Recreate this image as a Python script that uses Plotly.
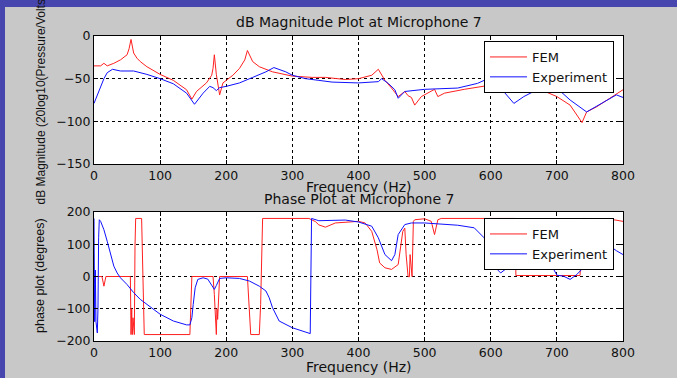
import plotly.graph_objects as go

# ---------------- data ----------------
fem_mag_pts = [(0,-35),(10,-35),(15,-32),(20,-35),(30,-32),(40,-28),(50,-22),(53,-15),(56,-4),(58,-12),
               (60,-20),(65,-26),(70,-30),(80,-36),(100,-45),(120,-52),(140,-63),(148,-74),(155,-65),
               (170,-55),(178,-46),(180,-38),(182,-22),(185,-45),(190,-69),(195,-55),(200,-52),(210,-46),
               (220,-38),(228,-28),(232,-17),(236,-24),(240,-30),(250,-36),(270,-42),(300,-47),(330,-48.5),
               (350,-48.5),(380,-51),(400,-50),(420,-46),(430,-39),(440,-52),(450,-61),(460,-71),(470,-65),
               (475,-70),(480,-72),(485,-81),(495,-71),(510,-65),(515,-62.5),(520,-71),(530,-67),
               (560,-62.5),(600,-57.5),(620,-50),(635,-40),(640,-36),(645,-42),(650,-55.5),(670,-61),
               (700,-71),(720,-81),(738,-101.5),(745,-89),(760,-83),(780,-73),(800,-63)]

exp_mag_pts = [(0,-79),(5,-69),(10,-61),(15,-50),(20,-43),(28,-39),(40,-41),(60,-41),(80,-45),(100,-50),
               (120,-56),(140,-67),(152,-80),(165,-67),(175,-59),(180,-60.5),(185,-64),(190,-60.5),
               (200,-59),(220,-55),(240,-48.5),(260,-42),(272,-37),(290,-42),(300,-46),(320,-50),
               (340,-52),(360,-54),(400,-55),(430,-53.5),(435,-50),(445,-55.5),(455,-63),(460,-73),
               (470,-65),(500,-62.5),(550,-61),(580,-55.5),(600,-48.5),(615,-61),(635,-79),(650,-71),
               (670,-63),(685,-55),(700,-61),(720,-75),(745,-89),(760,-82),(790,-69),(800,-72)]

fem_phase_pts = [(0,0),(1,-20),(2,0),(12,0),(15,-30),(18,0),(55,0),(56,-180),(57,-100),(58,-180),
                 (59,-128),(60,-180),(61,-180),(62,94),(63,180),(72,180),(73,94),(75,-81),(76,-180),
                 (145,-180),(146,-87),(148,0),(180,0),(182,-56),(185,-180),(186,-100),(187,-133),
                 (189,-25),(190,0),(232,0),(234,-87),(237,-180),(250,-180),(252,-87),(254,94),(255,180),
                 (325,180),(335,170),(340,160),(350,153),(365,166),(400,171),(410,166),(420,140),
                 (428,83),(432,42),(440,27),(450,22),(460,37),(463,89),(467,140),(470,150),(472,68),
                 (475,0),(477,-1),(478,68),(480,0),(481,0),(483,171),(485,176),(500,179),(510,171),
                 (515,130),(520,176),(525,180),(637,180),(638,3),(735,3),(740,180),(780,178),(800,171)]

exp_phase_pts = [(0,180),(1,-140),(2,20),(3,-140),(5,-175),(6,-100),(7,120),(8,176),(10,171),(15,145),
                 (20,109),(25,68),(30,32),(35,11),(40,-4),(50,-25),(60,-50),(70,-71),(80,-87),(100,-117),
                 (120,-138),(140,-150),(145,-150),(148,-128),(150,-87),(153,-35),(157,-9),(165,-4),
                 (172,-8),(178,-25),(182,-40),(185,-28),(190,-6),(200,-4),(220,-6),(235,-14),(250,-30),
                 (260,-45),(265,-66),(270,-97),(280,-138),(300,-159),(320,-171),(327,-177),(328,0),
                 (329,180),(340,173),(380,175),(400,169),(420,156),(430,120),(440,68),(450,49),(455,68),
                 (460,130),(470,161),(480,166),(500,166),(550,159),(575,151),(590,120),(598,78),(605,32),
                 (615,11),(625,27),(632,78),(640,140),(660,165),(675,140),(683,78),(690,42),(700,4),
                 (710,1),(720,-9),(730,6),(740,27),(748,78),(760,130),(777,99),(790,80),(800,68)]

series_names = ["FEM", "Experiment"]
series_colors = ["#ff2020", "#1010ff"]
titles = ["dB Magnitude Plot at Microphone 7", "Phase Plot at Microphone 7"]
x_title = "Frequency (Hz)"
y_titles = ["dB Magnitude (20log10(Pressure/Volts))", "phase plot (degrees)"]

# ---------------- geometry helpers ----------------
W, H = 677, 378
L, R, T, B = 94, 54, 36, 37
PW, PH = W - L - R, H - T - B
def px(x): return (x - L) / PW
def py(y): return (H - B - y) / PH

WIDE = "DejaVu Sans"
NARROW = "Arial"

fig = go.Figure()

def add(pts, name, color, xa, ya, legend, show):
    fig.add_trace(go.Scatter(x=[p[0] for p in pts], y=[p[1] for p in pts], mode="lines",
                             name=name, line=dict(color=color, width=1),
                             xaxis=xa, yaxis=ya, legend=legend, showlegend=show))

add(fem_mag_pts, series_names[0], series_colors[0], "x", "y", "legend", True)
add(exp_mag_pts, series_names[1], series_colors[1], "x", "y", "legend", True)
add(fem_phase_pts, series_names[0], series_colors[0], "x2", "y2", "legend2", True)
add(exp_phase_pts, series_names[1], series_colors[1], "x2", "y2", "legend2", True)

axis_common = dict(showgrid=True, gridcolor="black", griddash="dot", gridwidth=1,
                   showline=True, linecolor="black", linewidth=1, mirror="ticks",
                   ticks="inside", ticklen=4, tickcolor="black", zeroline=False,
                   tickfont=dict(family=WIDE, size=12.5, color="#111111"))

leg_common = dict(x=px(614), xanchor="right", yanchor="top", bgcolor="white",
                  bordercolor="black", borderwidth=1, font=dict(family=WIDE, size=13, color="#111111"),
                  itemwidth=37, tracegroupgap=0)

fig.update_layout(
    width=W, height=H, margin=dict(l=L, r=R, t=T, b=B),
    paper_bgcolor="#c8c8c8", plot_bgcolor="white",
    font=dict(family=WIDE, size=13, color="#111111"),
    xaxis=dict(domain=[0, 1], anchor="y", range=[0, 800], dtick=100, **axis_common),
    yaxis=dict(domain=[py(164), 1], anchor="x", range=[-150, 0], dtick=50, **axis_common),
    xaxis2=dict(domain=[0, 1], anchor="y2", range=[0, 800], dtick=100, **axis_common),
    yaxis2=dict(domain=[0, py(212)], anchor="x2", range=[-200, 200], dtick=100, **axis_common),
    legend=dict(y=py(41), **leg_common),
    legend2=dict(y=py(218), **leg_common),
    showlegend=True,
)

# blue slide border
band = "#4646ae"
fig.add_shape(type="rect", xref="paper", yref="paper", x0=px(-5), x1=px(5), y0=py(H + 10), y1=py(-10),
              fillcolor=band, line_width=0, layer="below")
fig.add_shape(type="rect", xref="paper", yref="paper", x0=px(-5), x1=px(W + 10), y0=py(7), y1=py(-10),
              fillcolor=band, line_width=0, layer="below")

def ann(text, x, y, family, size, angle=0, yanchor="middle"):
    fig.add_annotation(text=text, xref="paper", yref="paper", x=x, y=y, showarrow=False,
                       xanchor="center", yanchor=yanchor, textangle=angle,
                       font=dict(family=family, size=size, color="#111111"))

ann(titles[0], 0.5, py(22), WIDE, 14)
ann(x_title, 0.5, py(187), WIDE, 14)
ann(titles[1], 0.5, py(199), WIDE, 14)
ann(x_title, 0.5, py(367), WIDE, 14)
ann(y_titles[0], px(40), py(207), NARROW, 12, angle=-90, yanchor="bottom")
ann(y_titles[1], px(40), py(276), NARROW, 12.5, angle=-90)

fig.write_html("out.html")
